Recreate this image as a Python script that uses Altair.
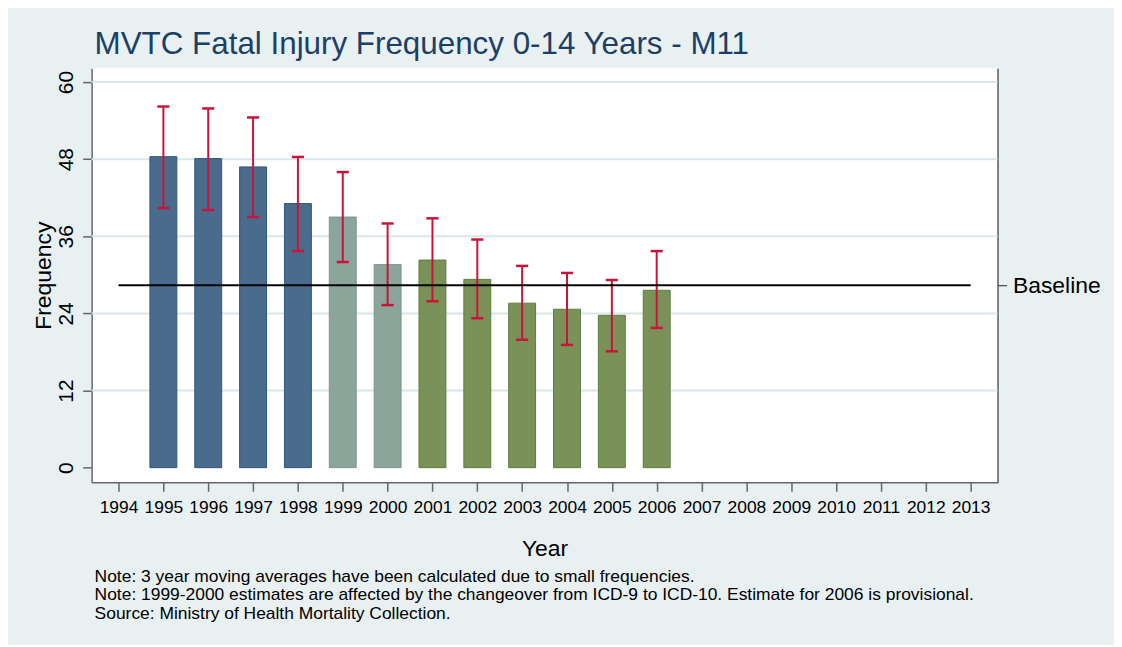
import altair as alt
import pandas as pd

# ---- data ----
years = [1995, 1996, 1997, 1998, 1999, 2000, 2001, 2002, 2003, 2004, 2005, 2006]
frequency = [48.4, 48.1, 46.8, 41.1, 39.0, 31.6, 32.3, 29.3, 25.6, 24.65, 23.7, 27.6]
upper_ci = [56.2, 55.9, 54.5, 48.35, 46.0, 38.0, 38.8, 35.5, 31.4, 30.3, 29.2, 33.7]
lower_ci = [40.4, 40.1, 39.0, 33.7, 32.0, 25.3, 25.9, 23.25, 19.9, 19.1, 18.1, 21.75]
period = ["ICD-9"] * 4 + ["Changeover"] * 2 + ["ICD-10"] * 6

period_names = ["ICD-9", "Changeover", "ICD-10"]
period_fill = ["#4a6b8c", "#8ba59a", "#7a9257"]
period_stroke = ["#2c5683", "#78978a", "#5e7c3e"]

axis_years = list(range(1994, 2014))
y_ticks = [0, 12, 24, 36, 48, 60]
grid_values = [12, 24, 36, 48, 60]
baseline_value = [28.4]
baseline_start = [1994]
baseline_end = [2013]

title_text = "MVTC Fatal Injury Frequency 0-14 Years - M11"
notes = [
    "Note: 3 year moving averages have been calculated due to small frequencies.",
    "Note: 1999-2000 estimates are affected by the changeover from ICD-9 to ICD-10. Estimate for 2006 is provisional.",
    "Source: Ministry of Health Mortality Collection.",
]

FONT = "Liberation Sans"
BG = "#e8f0f2"
AXIS_COL = "#666666"
ERR_COL = "#c8143b"

df = pd.DataFrame({
    "year": years,
    "freq": frequency,
    "upper": upper_ci,
    "lower": lower_ci,
    "period": period,
})

xscale = alt.Scale(domain=[1993.4, 2013.6], nice=False, zero=False)
yscale = alt.Scale(domain=[-2.28, 62.17], nice=False, zero=False)

PW, PH = 910, 416

grid = alt.Chart(pd.DataFrame({"g": grid_values})).mark_rule(
    color="#d9e6ea", strokeWidth=2
).encode(y=alt.Y("g:Q", scale=yscale, axis=None))

bars = alt.Chart(df).transform_calculate(
    x0="datum.year - 0.3", x1="datum.year + 0.3"
).mark_bar(strokeWidth=1).encode(
    x=alt.X(
        "x0:Q", scale=xscale,
        axis=alt.Axis(
            orient="bottom", values=axis_years, format="d", grid=False,
            tickSize=9, tickWidth=1.5,
            tickColor=AXIS_COL, domainColor=AXIS_COL, domainWidth=1.5,
            labelFont=FONT, labelFontSize=17.5, labelColor="black",
            labelPadding=7, labelFlush=False, labelOverlap=False,
            title="Year", titleFont=FONT, titleFontSize=23, titleFontWeight="normal",
            titleColor="black", titlePadding=22,
        ),
    ),
    x2="x1:Q",
    y=alt.Y(
        "freq:Q", scale=yscale,
        axis=alt.Axis(
            orient="left", values=y_ticks, grid=False, tickSize=9, tickWidth=1.5,
            tickColor=AXIS_COL, domainColor=AXIS_COL, domainWidth=1.5,
            labelFont=FONT, labelFontSize=21, labelColor="black",
            labelAngle=270, labelAlign="center", labelBaseline="alphabetic",
            labelPadding=10,
            title="Frequency", titleFont=FONT, titleFontSize=23,
            titleFontWeight="normal", titleColor="black", titleAngle=270,
            titleX=-41, titleY=PH / 2, titleAlign="center",
            titleBaseline="alphabetic",
        ),
    ),
    y2=alt.datum(0),
    fill=alt.Fill("period:N", scale=alt.Scale(domain=period_names, range=period_fill), legend=None),
    stroke=alt.Stroke("period:N", scale=alt.Scale(domain=period_names, range=period_stroke), legend=None),
)

err = alt.Chart(df).mark_rule(color=ERR_COL, strokeWidth=2).encode(
    x=alt.X("year:Q", scale=xscale, axis=None),
    y=alt.Y("lower:Q", scale=yscale, axis=None),
    y2="upper:Q",
)

caps_base = alt.Chart(df).transform_calculate(
    c0="datum.year - 0.135", c1="datum.year + 0.135"
)
cap_up = caps_base.mark_rule(color=ERR_COL, strokeWidth=2.5).encode(
    x=alt.X("c0:Q", scale=xscale, axis=None), x2="c1:Q",
    y=alt.Y("upper:Q", scale=yscale, axis=None),
)
cap_lo = caps_base.mark_rule(color=ERR_COL, strokeWidth=2.5).encode(
    x=alt.X("c0:Q", scale=xscale, axis=None), x2="c1:Q",
    y=alt.Y("lower:Q", scale=yscale, axis=None),
)

base_df = pd.DataFrame({"bx0": baseline_start, "bx1": baseline_end, "b": baseline_value})
baseline = alt.Chart(base_df).mark_rule(color="black", strokeWidth=2).encode(
    x=alt.X("bx0:Q", scale=xscale, axis=None),
    x2="bx1:Q",
    y=alt.Y(
        "b:Q", scale=yscale,
        axis=alt.Axis(
            orient="right", values=baseline_value, labelExpr="'Baseline'",
            grid=False, tickSize=9, tickWidth=1.2, tickColor="#444444",
            domainColor="#444444", domainWidth=1.3,
            labelFont=FONT, labelFontSize=23, labelColor="black",
            labelPadding=6, labelBaseline="middle", labelAlign="left",
            title=None,
        ),
    ),
)

notes_layer = alt.Chart(pd.DataFrame({"k": [0]})).mark_text(
    text=notes, align="left", baseline="alphabetic", font=FONT,
    fontSize=17.5, lineHeight=18.5, color="black",
).encode(x=alt.value(3), y=alt.value(516))

chart = alt.layer(
    grid, bars, err, cap_up, cap_lo, baseline, notes_layer
).resolve_axis(x="independent", y="independent").properties(
    width=PW,
    height=PH,
    autosize=alt.AutoSizeParams(type="none"),
    padding={"left": 84, "top": 59, "right": 117, "bottom": 162},
    background=BG,
    title=alt.TitleParams(
        text=title_text, anchor="start", frame="group", font=FONT,
        fontSize=31.5, fontWeight="normal", color="#1c3f66", dx=3, offset=8,
    ),
).configure_view(fill="white", stroke=None)

chart.save("out.html", embed_options={"renderer": "svg", "actions": False})
